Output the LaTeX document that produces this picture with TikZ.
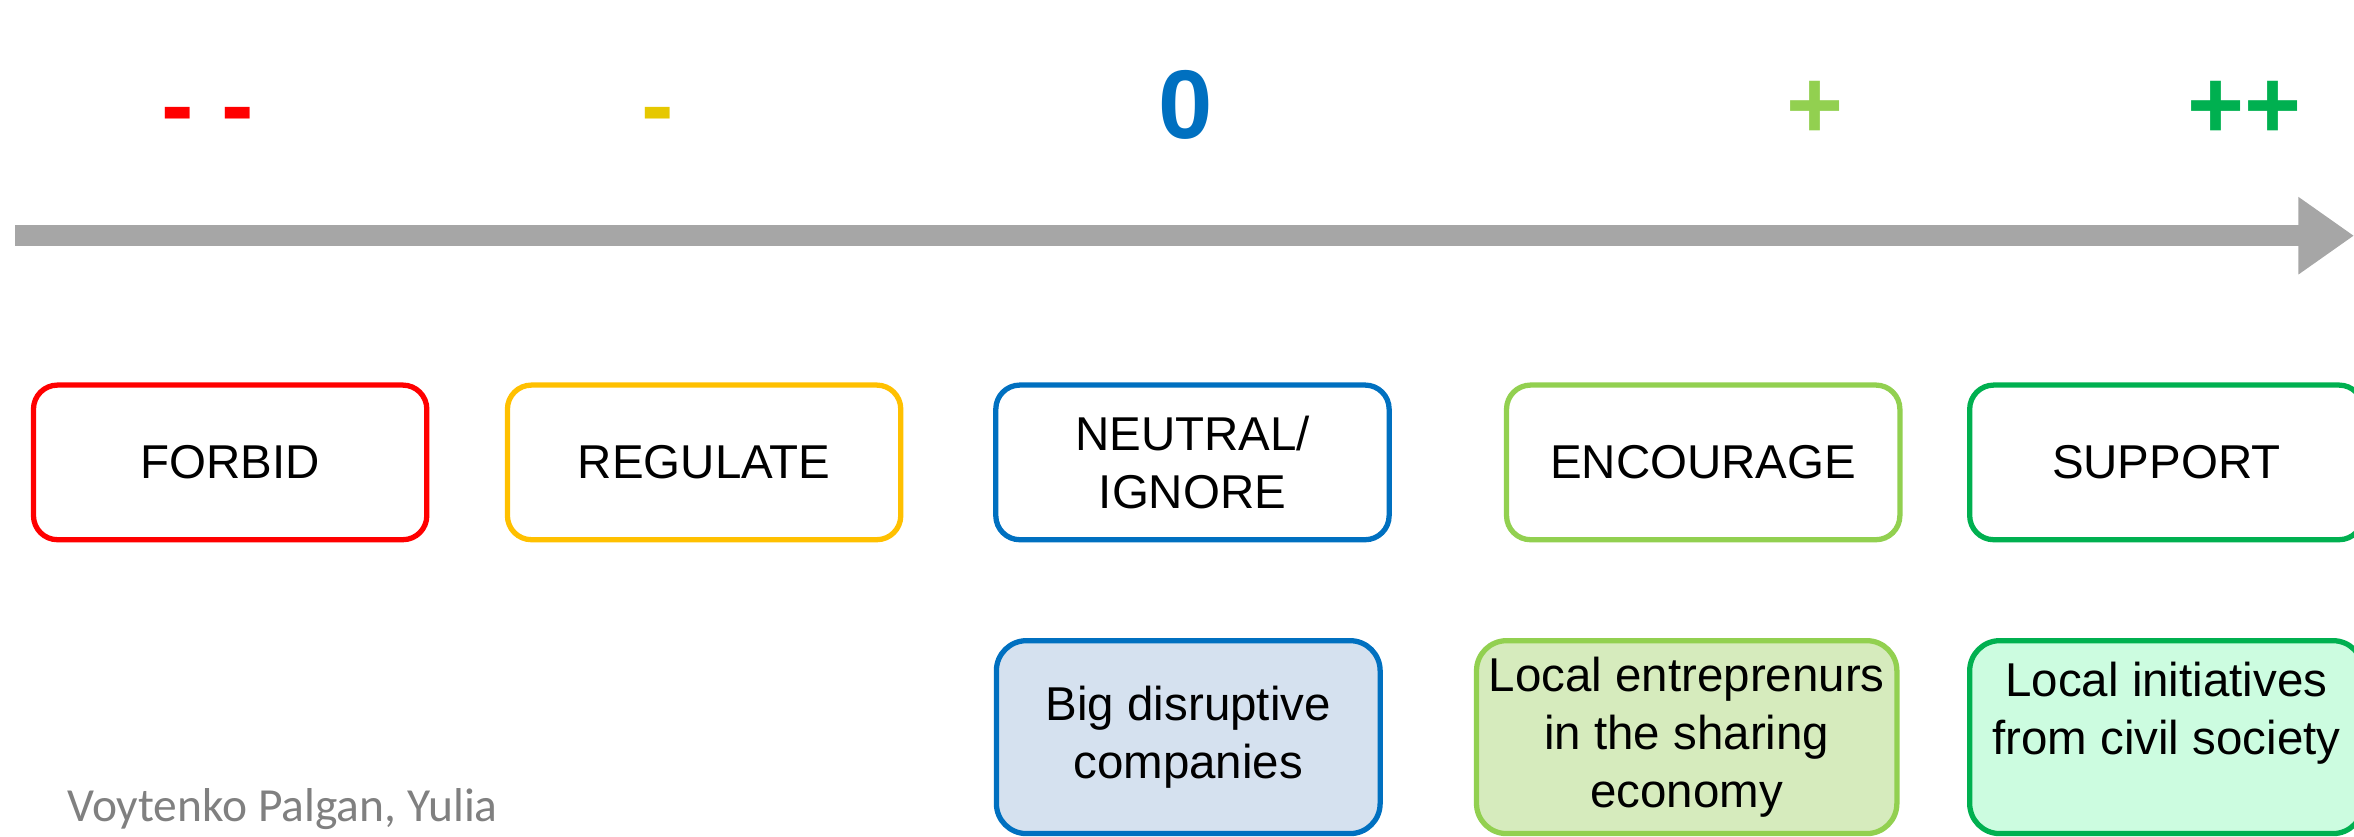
\documentclass[tikz,border=0pt]{standalone}
\usepackage{fontspec}
\setmainfont{Liberation Sans}
\newfontfamily\authorfont{Carlito}
\usepackage{tikz}
\usetikzlibrary{
  arrows.meta, positioning, calc
}
\usepackage{xcolor}
\definecolor{stforbid}{HTML}{FF0000}
\definecolor{stregulate}{HTML}{FFC000}
\definecolor{stminus}{HTML}{E6C800}
\definecolor{stneutral}{HTML}{0070C0}
\definecolor{stencourage}{HTML}{92D050}
\definecolor{stsupport}{HTML}{00B050}
\definecolor{axisgray}{HTML}{A6A6A6}
\definecolor{fillneutral}{HTML}{D5E1EF}
\definecolor{fillencourage}{HTML}{D6EBBD}
\definecolor{fillsupport}{HTML}{CCFCE0}
\definecolor{authorgray}{HTML}{808080}

\begin{document}
\begin{tikzpicture}[
    stance/.style={draw=#1, line width=1pt, rounded corners=1.6mm, fill=white,
      minimum width=2.62cm, minimum height=1.03cm, inner sep=1pt,
      font=\fontsize{9}{10.95}\selectfont, align=center},
    actor/.style 2 args={draw=#1, fill=#2, line width=1pt, rounded corners=2mm,
      minimum height=1.285cm, inner sep=1pt,
      font=\fontsize{9}{10.95}\selectfont, align=center},
    scoresign/.style={text=#1, anchor=base, inner sep=0pt,
      font=\fontsize{18.5}{22}\selectfont\bfseries}
  ]
  \useasboundingbox (0,0) rectangle (15.68,-5.57);
  \clip (0,0) rectangle (15.68,-5.57);

  % scale above the axis
  \node[scoresign=stforbid]    (mm)   at (1.385,-0.92) {- -};
  \node[scoresign=stminus]     (m)    at (4.38,-0.92)  {-};
  \node[scoresign=stneutral]   (zero) at (7.90,-0.92)  {0};
  \node[scoresign=stencourage] (p)    at (12.09,-0.92) {+};
  \node[scoresign=stsupport]   (pp)   at (14.95,-0.92) {++};

  \coordinate (axisstart) at (0.10,-1.57);
  \coordinate (axisend)   at (15.68,-1.57);
  \draw[axisgray, line width=4pt, -{Triangle[length=3.7mm, width=4.9mm]}]
    (axisstart) -- (axisend);

  % stances of the city
  \node[stance=stforbid]    (forbid)    at (1.533,-3.08)  {FORBID};
  \node[stance=stregulate]  (regulate)  at (4.69,-3.08)   {REGULATE};
  \node[stance=stneutral]   (neutral)   at (7.943,-3.08)  {NEUTRAL/\\IGNORE};
  \node[stance=stencourage] (encourage) at (11.345,-3.08) {ENCOURAGE};
  \node[stance=stsupport]   (support)   at (14.43,-3.08)  {SUPPORT};

  % who gets which stance
  \node[actor={stneutral}{fillneutral}, minimum width=2.556cm]
    (bigcomp) at (7.915,-4.91) {Big disruptive\\companies};
  \node[actor={stencourage}{fillencourage}, minimum width=2.80cm]
    (localent) at (11.235,-4.91) {Local entreprenurs\\in the sharing\\economy};
  \node[actor={stsupport}{fillsupport}, minimum width=2.62cm]
    (localinit) at (14.43,-4.91) {Local initiatives\\from civil society\\\mbox{}};

  \node[anchor=base west, inner sep=0pt, text=authorgray,
        font=\authorfont\fontsize{9}{11}\selectfont]
    (author) at (0.44,-5.47) {Voytenko Palgan, Yulia};
\end{tikzpicture}
\end{document}
